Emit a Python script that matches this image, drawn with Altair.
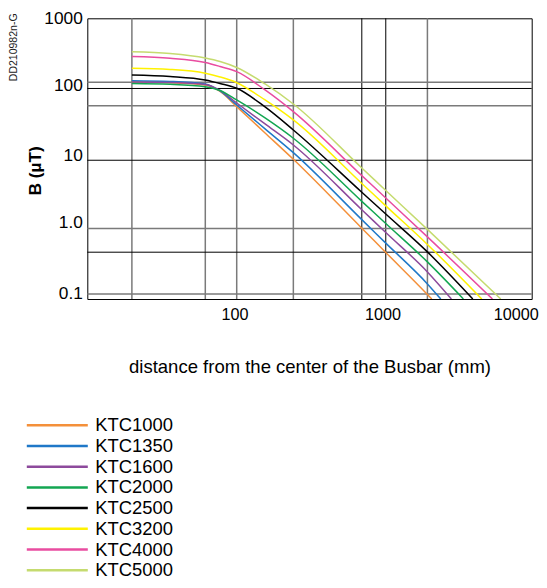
import altair as alt
import pandas as pd

models = ["KTC1000", "KTC1350", "KTC1600", "KTC2000", "KTC2500", "KTC3200", "KTC4000", "KTC5000"]
colors = ["#f4903a", "#1f78c8", "#8d4a9c", "#13a652", "#000000", "#fff200", "#e94ca0", "#c5db6f"]

# distance (mm) where values were read
distance = [20, 36.2, 62.6, 78.7, 102, 158.5, 246, 713, 1035, 1977]
# distance where each curve reaches the bottom of the chart (B = 0.1 µT)
end_distance = [2116, 2433, 2870, 3459, 4003, 4603, 5430, 6185]
end_b = 0.1

b_ktc1000 = [123.8, 120.6, 112.2, 90.6, 55.05, 23.23, 9.80, 1.02, 0.4611, 0.1162]
b_ktc1350 = [129.1, 125.8, 115.9, 92.1, 58.2, 26.6, 12.17, 1.352, 0.6254, 0.1641]
b_ktc1600 = [123.8, 121.8, 114.0, 93.7, 62.1, 31.2, 15.67, 1.871, 0.8858, 0.2432]
b_ktc2000 = [117.8, 114.8, 106.1, 93.7, 68.6, 38.0, 19.53, 2.465, 1.190, 0.3377]
b_ktc2500 = [155.7, 148.2, 132.2, 117.8, 100.6, 54.5, 25.6, 3.322, 1.625, 0.4689]
b_ktc3200 = [194.0, 186.6, 164.7, 145.8, 120.9, 68.6, 35.6, 4.43, 2.126, 0.5995]
b_ktc4000 = [285.6, 270.0, 234.6, 205.8, 173.5, 95.2, 46.7, 5.73, 2.746, 0.767]
b_ktc5000 = [334.3, 315.2, 271.9, 242.4, 199.2, 115.9, 60.14, 7.37, 3.524, 0.9806]

series = [b_ktc1000, b_ktc1350, b_ktc1600, b_ktc2000, b_ktc2500, b_ktc3200, b_ktc4000, b_ktc5000]

# grid lines as drawn in the original (irregular)
vgrid_gray = [20, 62.6, 102, 246, 1977]
vgrid_black = [713, 1035]
hgrid_gray = [122.6, 56.9, 1.007, 0.1183]
hgrid_black = [100, 9.49, 0.4645]

x_ticks = [100, 1000, 10000]
y_ticks = [0.1, 1, 10, 100, 1000]

rows = []
for m, vals, xe in zip(models, series, end_distance):
    for d, b in zip(distance, vals):
        rows.append({"model": m, "d": d, "b": b})
    rows.append({"model": m, "d": xe, "b": end_b})
df = pd.DataFrame(rows)

FONT = "Liberation Sans"
xscale = alt.Scale(type="log", domain=[10, 10000], nice=False)
yscale = alt.Scale(type="log", domain=[0.1, 1000], nice=False)

xaxis = alt.Axis(
    values=x_ticks, format="d", grid=False, ticks=False, domain=False,
    labelFont=FONT, labelFontSize=16.2, labelColor="black", labelPadding=7,
    labelFlush=False,
    labelOffset={"condition": {"test": "datum.value == 10000", "value": -16}, "value": -1},
    title="distance from the center of the Busbar (mm)", titleFont=FONT,
    titleFontSize=18.5, titleFontWeight="normal", titleColor="black", titlePadding=35,
)
yaxis = alt.Axis(
    values=y_ticks, grid=False, ticks=False, domain=False,
    labelExpr="datum.value >= 10 ? format(datum.value, 'd') : format(datum.value, '.1f')",
    labelFont=FONT, labelFontSize=17.3, labelColor="black", labelPadding=5,
    labelOffset={"condition": [
        {"test": "datum.value <= 1", "value": -6},
        {"test": "datum.value >= 1000", "value": 0},
    ], "value": -3.3},
    title="B (µT)", titleFont=FONT, titleFontSize=17.3, titleFontWeight="bold",
    titleColor="black", titleAngle=270, titleAlign="center", titleBaseline="middle",
    titleX=-52, titleY=152,
)

X = lambda: alt.X("d:Q", scale=xscale, axis=xaxis)
Y = lambda: alt.Y("b:Q", scale=yscale, axis=yaxis)

vg_gray = alt.Chart(pd.DataFrame({"d": vgrid_gray})).mark_rule(color="#7a7a7a", strokeWidth=1.5).encode(x=X())
vg_black = alt.Chart(pd.DataFrame({"d": vgrid_black})).mark_rule(color="black", strokeWidth=1).encode(x=X())
hg_gray = alt.Chart(pd.DataFrame({"b": hgrid_gray})).mark_rule(color="#7a7a7a", strokeWidth=1.5).encode(y=Y())
hg_black = alt.Chart(pd.DataFrame({"b": hgrid_black})).mark_rule(color="black", strokeWidth=1).encode(y=Y())

lines = alt.Chart(df).mark_line(strokeWidth=1.5, interpolate="monotone", clip=True).encode(
    x=X(), y=Y(),
    color=alt.Color(
        "model:N",
        scale=alt.Scale(domain=models, range=colors),
        legend=alt.Legend(
            title=None, orient="none", legendX=-62, legendY=397,
            symbolType="stroke", symbolSize=3721, symbolStrokeWidth=2.5,
            labelFont=FONT, labelFontSize=18.4, labelColor="black", labelOffset=6,
            rowPadding=0.7, clipHeight=20, padding=0, symbolOpacity=1,
        ),
    ),
)

code = alt.Chart(pd.DataFrame({"t": ["DD210982n-G"]})).mark_text(
    angle=270, fontSize=10.5, font=FONT, align="center", baseline="middle", color="#222"
).encode(text="t:N", x=alt.value(-73.5), y=alt.value(29))

chart = alt.layer(vg_gray, vg_black, hg_gray, hg_black, lines, code).properties(
    width=444.4, height=280.7,
    autosize=alt.AutoSizeParams(type="none"),
    padding={"left": 79.3, "top": 10.3, "right": 7.3, "bottom": 281},
).configure_view(stroke="black", strokeWidth=1)

chart.save("out.html", embed_options={"renderer": "svg", "actions": False})
